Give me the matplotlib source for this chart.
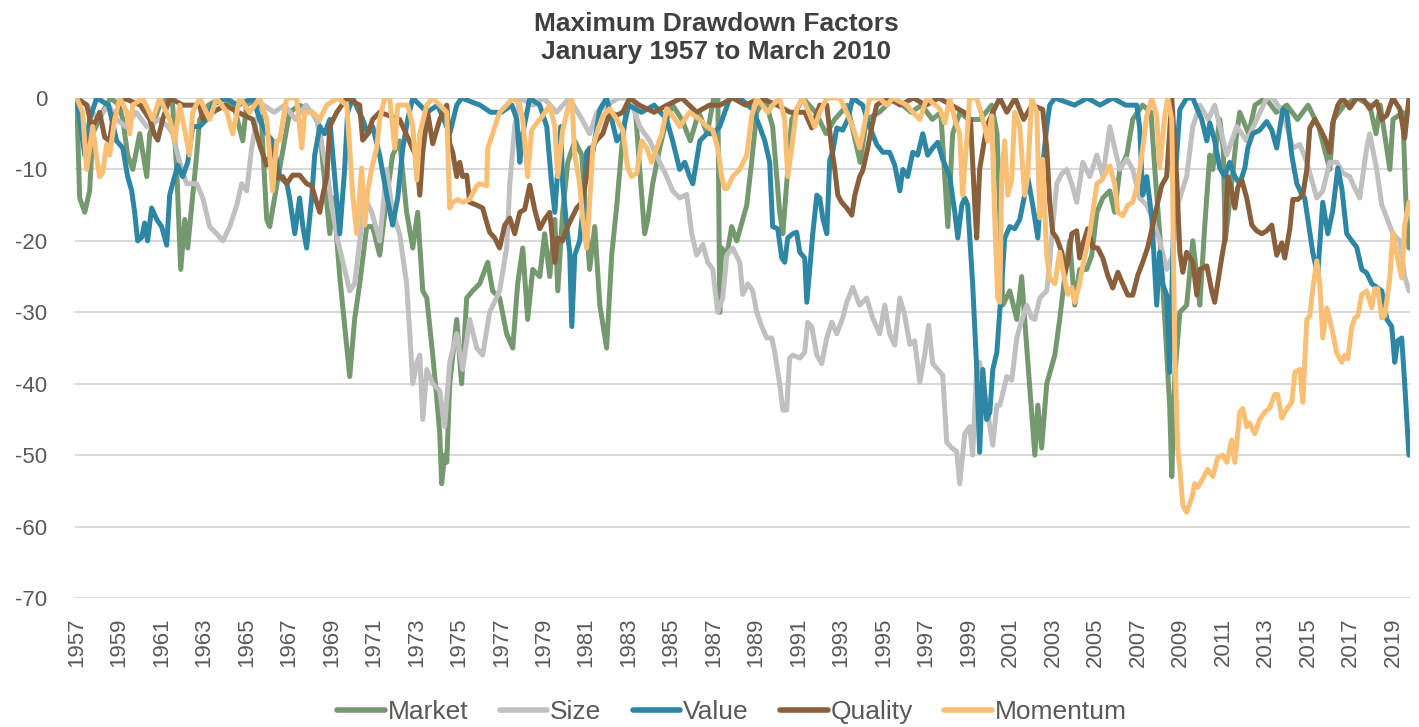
import matplotlib
matplotlib.use("Agg")
import matplotlib.pyplot as plt

plt.rcParams['font.family'] = ['Liberation Sans', 'DejaVu Sans']
plt.rcParams['axes.unicode_minus'] = False

# drawdown values (%), time in fractional years
market_t = [1957.00, 1957.14, 1957.38, 1957.61, 1957.75, 1958.22, 1958.6, 1959.0, 1959.17, 1959.40,
            1959.64, 1959.97, 1960.30, 1960.44, 1960.91, 1961.3, 1961.52, 1961.71, 1961.90, 1962.09,
            1962.23, 1962.42, 1962.65, 1962.79, 1963.2, 1963.8, 1964.4, 1964.82, 1965.0, 1965.5,
            1965.7, 1965.95, 1966.09, 1966.55, 1967.03, 1967.5, 1968.1, 1968.45, 1968.59, 1968.92,
            1969.1, 1969.39, 1969.86, 1970.09, 1970.33, 1970.66, 1970.94, 1971.27, 1971.60, 1971.88,
            1972.21, 1972.54, 1972.83, 1973.06, 1973.30, 1973.49, 1973.77, 1973.96, 1974.10, 1974.19,
            1974.33, 1974.43, 1974.57, 1974.90, 1975.13, 1975.37, 1975.65, 1975.98, 1976.36, 1976.59,
            1976.92, 1977.25, 1977.54, 1977.77, 1978.01, 1978.24, 1978.48, 1978.81, 1979.04, 1979.28,
            1979.52, 1979.66, 1979.89, 1980.13, 1980.46, 1980.79, 1981.16, 1981.40, 1981.64, 1981.96,
            1982.20, 1982.44, 1982.67, 1982.91, 1983.3, 1983.52, 1983.75, 1983.90, 1984.13, 1984.46,
            1984.79, 1985.07, 1985.5, 1985.9, 1986.3, 1986.7, 1987.0, 1987.2, 1987.29, 1987.38,
            1987.62, 1987.85, 1988.09, 1988.37, 1988.56, 1988.79, 1989.03, 1989.4, 1989.78, 1990.11,
            1990.26, 1990.44, 1990.68, 1991.2, 1991.8, 1992.3, 1992.7, 1993.3, 1993.9, 1994.2,
            1994.8, 1995.5, 1996.3, 1996.8, 1997.3, 1997.7, 1998.03, 1998.26, 1998.6, 1999.0,
            1999.55, 2000.1, 2000.35, 2000.62, 2000.95, 2001.28, 2001.51, 2001.75, 2001.98, 2002.13,
            2002.27, 2002.45, 2002.69, 2003.07, 2003.30, 2003.54, 2003.77, 2004.01, 2004.24, 2004.57,
            2004.81, 2005.05, 2005.33, 2005.66, 2005.89, 2006.13, 2006.46, 2006.74, 2007.2, 2007.6,
            2007.78, 2008.01, 2008.25, 2008.48, 2008.58, 2008.72, 2008.96, 2009.28, 2009.57, 2009.76,
            2009.90, 2010.13, 2010.37, 2010.51, 2010.84, 2011.0, 2011.1, 2011.4, 2011.64, 2011.78,
            2012.2, 2012.5, 2013.0, 2013.5, 2014.0, 2014.5, 2015.0, 2015.5, 2016.02, 2016.2,
            2016.7, 2017.3, 2017.9, 2018.2, 2018.4, 2018.85, 2019.0, 2019.46, 2019.6, 2019.75]
market_v = [0, -14, -16, -13, -5, -2, 0, -1, -3, -8,
            -10, -5, -11, -5, -1, 0, -1, -10, -24, -17,
            -21, -15, -8, -3, -1, 0, -1, -6, -1, 0,
            -3, -17, -18, -10, -2, -1, -2, -4, -9, -19,
            -14, -25, -39, -31, -26, -18, -18, -22, -14, -8,
            -6, -16, -21, -16, -27, -28, -36, -42, -47, -54,
            -50, -51, -40, -31, -40, -28, -27, -26, -23, -27,
            -28, -33, -35, -26, -21, -31, -24, -25, -19, -25,
            -17, -27, -16, -9, -6, -8, -24, -18, -29, -35,
            -22, -15, -7, -1, -1, -10, -19, -17, -12, -7,
            -3, -1, -3, -6, -2, -5, 0, 0, -30, -21,
            -22, -18, -20, -17, -15, -9, -2, 0, -4, -16,
            -19, -12, -3, 0, -2, -5, -3, -1, -9, -3,
            -2, 0, -2, -1, -3, -2, -18, -5, -2, -3,
            -3, -1, -5, -29, -27, -31, -25, -35, -44, -50,
            -43, -49, -40, -36, -31, -25, -20, -29, -24, -24,
            -22, -16, -14, -13, -16, -10, -8, -3, -1, -2,
            -10, -19, -31, -43, -53, -39, -30, -29, -20, -25,
            -29, -18, -8, -10, -3, -7, -20, -12, -5, -2,
            -5, -1, 0, -2, -1, -3, -1, -4, -10, -3,
            -1, 0, -1, -5, -1, -10, -3, -2, -14, -21]

size_t = [1957.00, 1957.5, 1958.0, 1958.5, 1958.88, 1959.3, 1959.8, 1960.3, 1960.9, 1961.3,
          1961.52, 1961.85, 1962.18, 1962.65, 1962.94, 1963.26, 1963.59, 1963.88, 1964.21, 1964.54,
          1964.77, 1965.01, 1965.24, 1965.48, 1965.8, 1966.3, 1966.8, 1967.3, 1967.8, 1968.3,
          1968.78, 1969.01, 1969.30, 1969.86, 1970.09, 1970.33, 1970.57, 1970.9, 1971.27, 1971.60,
          1971.88, 1972.21, 1972.54, 1972.69, 1972.83, 1973.02, 1973.16, 1973.30, 1973.49, 1973.77,
          1974.10, 1974.33, 1974.57, 1974.90, 1975.18, 1975.51, 1975.84, 1976.12, 1976.45, 1976.92,
          1977.25, 1977.40, 1977.63, 1977.87, 1978.5, 1979.0, 1979.6, 1980.2, 1980.8, 1981.16,
          1981.5, 1982.0, 1982.5, 1983.05, 1983.52, 1983.99, 1984.46, 1984.79, 1985.07, 1985.40,
          1985.73, 1985.97, 1986.20, 1986.49, 1986.72, 1986.96, 1987.19, 1987.43, 1987.62, 1987.90,
          1988.23, 1988.37, 1988.61, 1988.84, 1989.03, 1989.27, 1989.50, 1989.74, 1989.88, 1990.11,
          1990.26, 1990.44, 1990.58, 1990.73, 1991.06, 1991.29, 1991.43, 1991.62, 1991.86, 1992.09,
          1992.33, 1992.56, 1992.80, 1993.08, 1993.27, 1993.55, 1993.88, 1994.21, 1994.49, 1994.82,
          1995.06, 1995.29, 1995.53, 1995.77, 1996.00, 1996.24, 1996.47, 1996.71, 1996.94, 1997.13,
          1997.32, 1997.56, 1997.79, 1997.98, 1998.22, 1998.45, 1998.59, 1998.83, 1999.06, 1999.20,
          1999.39, 1999.53, 2000.15, 2000.34, 2000.48, 2000.81, 2001.04, 2001.28, 2001.42, 2001.75,
          2001.98, 2002.13, 2002.36, 2002.69, 2002.83, 2002.97, 2003.16, 2003.40, 2003.63, 2003.87,
          2004.10, 2004.39, 2004.72, 2005.05, 2005.33, 2005.66, 2005.89, 2006.13, 2006.46, 2006.74,
          2007.07, 2007.40, 2007.68, 2008.01, 2008.34, 2008.63, 2008.85, 2009.28, 2009.57, 2009.9,
          2010.3, 2010.6, 2011.17, 2011.64, 2012.1, 2012.58, 2013.05, 2013.34, 2013.81, 2014.28,
          2014.61, 2014.94, 2015.41, 2015.69, 2016.02, 2016.35, 2016.63, 2016.96, 2017.10, 2017.43,
          2017.76, 2017.90, 2018.23, 2018.47, 2018.71, 2018.99, 2019.32, 2019.55, 2019.75]
size_v = [0, -1, -3, -1, -3, -4, -2, -4, -3, -4,
          -5, -9, -12, -12, -14, -18, -19, -20, -18, -15,
          -12, -13, -7, -3, -1, -2, -1, -3, -1, -3,
          -10, -15, -20, -27, -26, -20, -14, -16, -20, -10,
          -16, -19, -26, -33, -40, -37, -36, -45, -38, -40,
          -41, -46, -37, -33, -38, -31, -35, -36, -30, -27,
          -21, -12, -4, 0, -1, 0, -2, 0, -3, -5,
          -2, -1, 0, 0, -4, -6, -9, -11, -13, -14,
          -13.5, -19, -22, -20.5, -23, -24, -30, -28, -22, -21,
          -23, -27.5, -26, -27, -30, -32, -33.6, -33.6, -35.6, -40,
          -43.7, -43.7, -36.4, -36, -36.4, -35.6, -31.4, -32, -36, -37.2,
          -33.6, -31.4, -33, -30.8, -28.6, -26.5, -29, -28, -30.8, -33,
          -29, -33, -34.6, -28, -30.4, -34.5, -34, -39.8, -36, -31.8,
          -37.2, -38, -38.8, -48.2, -49, -49.5, -54, -47, -46, -50,
          -38, -37, -48.6, -43, -43, -39, -39.5, -33.6, -32, -29,
          -30.8, -31, -28, -27, -23, -18, -12, -10.6, -10, -12,
          -14.6, -9, -11, -8, -11, -4, -7, -10, -8.5, -10,
          -14, -15, -17, -20, -24, -22, -15, -11, -4, -1,
          -3, -1, -8, -4, -6, -3, 0, 0, -2, -7,
          -6.5, -9, -14, -13, -9, -9, -10.5, -11, -12, -14,
          -7, -5, -10, -15, -16.8, -19, -20, -25, -27]

value_t = [1957.00, 1957.14, 1957.38, 1957.61, 1957.94, 1958.5, 1958.88, 1959.17, 1959.40, 1959.59,
           1959.73, 1959.87, 1960.06, 1960.20, 1960.34, 1960.53, 1960.77, 1961.00, 1961.24, 1961.38,
           1961.52, 1961.76, 1961.99, 1962.23, 1962.46, 1962.79, 1963.12, 1963.41, 1964.0, 1964.6,
           1965.3, 1965.62, 1965.95, 1966.23, 1966.56, 1966.9, 1967.03, 1967.27, 1967.50, 1967.65,
           1967.83, 1968.07, 1968.21, 1968.45, 1968.68, 1968.92, 1969.15, 1969.39, 1969.62, 1969.76,
           1970.00, 1970.47, 1970.71, 1970.94, 1971.27, 1971.60, 1971.88, 1972.12, 1972.36, 1972.59,
           1972.83, 1973.5, 1974.0, 1974.57, 1974.9, 1975.13, 1976.0, 1976.5, 1977.0, 1977.5,
           1977.73, 1977.87, 1978.01, 1978.34, 1978.81, 1979.14, 1979.37, 1979.52, 1979.66, 1979.80,
           1979.89, 1980.08, 1980.22, 1980.32, 1980.46, 1980.69, 1980.83, 1981.02, 1981.16, 1981.31,
           1981.64, 1981.96, 1982.44, 1982.7, 1983.0, 1983.6, 1984.2, 1984.79, 1985.07, 1985.40,
           1985.64, 1985.87, 1986.02, 1986.35, 1986.68, 1986.96, 1987.29, 1987.76, 1988.23, 1988.84,
           1989.17, 1989.41, 1989.64, 1989.78, 1990.02, 1990.21, 1990.35, 1990.49, 1990.73, 1990.91,
           1991.06, 1991.29, 1991.39, 1991.53, 1991.67, 1991.86, 1992.00, 1992.14, 1992.33, 1992.47,
           1992.61, 1992.80, 1993.08, 1993.32, 1993.55, 1994.02, 1994.35, 1994.68, 1994.97, 1995.29,
           1995.53, 1995.77, 1995.91, 1996.14, 1996.38, 1996.61, 1996.85, 1997.08, 1997.32, 1997.56,
           1997.79, 1998.12, 1998.36, 1998.50, 1998.69, 1998.83, 1998.97, 1999.20, 1999.39, 1999.53,
           1999.68, 1999.86, 2000.01, 2000.15, 2000.34, 2000.57, 2000.71, 2000.95, 2001.18, 2001.42,
           2001.65, 2001.79, 2002.03, 2002.27, 2002.45, 2002.69, 2002.83, 2003.07, 2004.0, 2004.6,
           2005.2, 2005.8, 2006.4, 2006.93, 2007.07, 2007.21, 2007.40, 2007.64, 2007.87, 2008.01,
           2008.15, 2008.34, 2008.48, 2008.72, 2008.96, 2009.28, 2009.57, 2009.76, 2009.99, 2010.23,
           2010.37, 2010.60, 2010.84, 2011.07, 2011.31, 2011.55, 2011.78, 2012.02, 2012.16, 2012.39,
           2012.72, 2013.05, 2013.29, 2013.52, 2013.81, 2014.00, 2014.23, 2014.47, 2014.70, 2014.84,
           2014.98, 2015.22, 2015.45, 2015.69, 2015.93, 2016.16, 2016.40, 2016.59, 2016.82, 2017.06,
           2017.29, 2017.53, 2017.76, 2018.00, 2018.23, 2018.47, 2018.71, 2018.94, 2019.08, 2019.22,
           2019.41, 2019.55, 2019.75]
value_v = [0, -3, -8, -3, 0, -1, -6, -7, -11, -13,
           -16, -20, -19.5, -17.5, -20, -15.4, -17, -18, -20.6, -13.6,
           -12, -9.4, -11, -9, -4, -4, -3, -1, 0, -1,
           0, -3, -5, -6, -11, -12, -14, -19, -14, -18,
           -21, -14, -8, -4, -5, -3, -11, -19, -10, -2,
           0, -3, -5, -4, -8, -13.6, -17.8, -14, -7, -3,
           0, -2, -1, -5, -1, 0, -1, -2, -2, -1,
           -3, -9, -5, 0, -1, -4, -12, -16, -10, -4,
           -12, -18, -21.6, -32, -22, -20, -16, -7.6, -7, -7.6,
           -1.6, 0, -6, -5, -1, -2, -1, -3, -6, -10,
           -9, -11, -12, -6, -5, -5, -4, 0, 0, -1.6,
           -4, -6, -9, -18, -18.3, -22.4, -23, -19.6, -19, -18.8,
           -21.6, -22.4, -28.6, -23.8, -19, -13.6, -14, -16.8, -19, -8.7,
           -7.5, -4.2, -4.5, -3, 0, -1, -4, -6.5, -7.6, -7.6,
           -9.4, -13, -10, -11, -7.6, -8, -5, -8, -7, -6.2,
           -8.6, -11, -16, -19.6, -15, -14, -15, -26, -37.8, -49.6,
           -38, -45, -44, -38, -35.6, -26, -19.6, -18, -18.3, -17,
           -13.6, -11, -15, -19.6, -11, -4, -1, 0, -1, 0,
           -1, 0, -1, -1, -4.2, -13.6, -11, -16.8, -29, -21.6,
           -26, -27.6, -38.4, -12, -1.6, 0, 0, -1.4, -3, -6,
           -3.5, -6, -9.8, -11, -9, -11, -12, -9.8, -7, -5,
           -4.5, -3.3, -4.5, -7, -1.6, -2, -8, -12, -13.5, -14,
           -16.8, -21.6, -24.8, -14.6, -19, -15.8, -9.8, -12.7, -19, -20,
           -20.9, -24, -24.5, -26, -26.5, -27, -31, -32, -37, -34,
           -33.6, -40, -50]

quality_t = [1957.00, 1957.47, 1957.71, 1957.94, 1958.08, 1958.32, 1958.55, 1958.70, 1959.2, 1960.0,
             1960.44, 1960.67, 1960.82, 1961.05, 1961.38, 1962.0, 1962.79, 1962.94, 1963.41, 1964.0,
             1964.6, 1965.29, 1965.62, 1965.95, 1966.23, 1966.47, 1966.70, 1966.89, 1967.17, 1967.50,
             1967.83, 1968.07, 1968.30, 1968.45, 1968.59, 1968.78, 1968.92, 1969.25, 1969.72, 1970.33,
             1970.47, 1970.71, 1970.94, 1971.27, 1972.21, 1973.02, 1973.16, 1973.30, 1973.53, 1973.77,
             1974.10, 1974.43, 1974.57, 1974.71, 1974.90, 1975.04, 1975.18, 1975.37, 1975.51, 1975.84,
             1976.12, 1976.31, 1976.45, 1976.69, 1976.92, 1977.16, 1977.40, 1977.63, 1977.87, 1978.10,
             1978.34, 1978.57, 1978.81, 1979.04, 1979.28, 1979.52, 1979.66, 1979.89, 1980.08, 1980.32,
             1980.55, 1980.79, 1981.02, 1981.26, 1981.49, 1981.78, 1982.11, 1982.44, 1982.72, 1983.05,
             1983.5, 1984.2, 1984.8, 1985.5, 1986.2, 1986.8, 1987.3, 1987.9, 1988.5, 1989.2,
             1990.0, 1990.6, 1991.3, 1991.62, 1992.0, 1992.33, 1992.56, 1992.70, 1992.85, 1993.03,
             1993.27, 1993.51, 1993.65, 1993.88, 1994.02, 1994.26, 1994.45, 1994.68, 1995.2, 1995.8,
             1996.4, 1997.0, 1997.6, 1998.2, 1998.8, 1999.1, 1999.30, 1999.39, 1999.53, 1999.86,
             2000.15, 2000.48, 2000.81, 2001.2, 2001.6, 2002.0, 2002.5, 2002.69, 2002.83, 2002.97,
             2003.16, 2003.40, 2003.54, 2003.68, 2003.87, 2004.10, 2004.24, 2004.39, 2004.62, 2004.86,
             2005.09, 2005.33, 2005.56, 2005.80, 2006.04, 2006.27, 2006.51, 2006.74, 2006.98, 2007.21,
             2007.45, 2007.68, 2007.92, 2008.11, 2008.34, 2008.58, 2008.81, 2008.96, 2009.10, 2009.28,
             2009.57, 2009.76, 2009.90, 2010.23, 2010.46, 2010.60, 2010.74, 2010.93, 2011.07, 2011.22,
             2011.40, 2011.55, 2011.69, 2011.88, 2012.11, 2012.35, 2012.58, 2012.82, 2013.05, 2013.29,
             2013.52, 2013.76, 2013.90, 2014.14, 2014.28, 2014.52, 2014.75, 2014.94, 2015.08, 2015.31,
             2015.55, 2015.78, 2016.02, 2016.16, 2016.40, 2016.63, 2016.96, 2017.29, 2017.57, 2017.90,
             2018.23, 2018.47, 2018.71, 2018.99, 2019.32, 2019.55, 2019.75]
quality_v = [0, -1, -4, -3, -2, -5.5, -6, -3, 0, -1,
             -3, -5.2, -5.9, -3, 0, -1, -1, -3, -2, -1,
             -2, -3, -6.6, -9.4, -7, -11.2, -11, -12, -10.8, -10.8,
             -12, -12.3, -14.6, -16, -13.6, -11, -4, -2, 0, -1,
             -5.9, -5, -3, -2, -3, -8.4, -13.6, -7.6, -2, -6.4,
             -3, -1, -6.4, -7.6, -11, -9, -11, -10.8, -14.6, -15,
             -15.4, -17.4, -18.8, -19.6, -21, -17.8, -16.8, -19, -16, -15.6,
             -12.2, -15.6, -18.3, -17, -16, -23, -19.6, -20, -18.3, -16.8,
             -15.4, -14.6, -11, -7, -5.9, -5, -2, -2.4, -2, 0,
             -1, -2, -1, 0, -2, -1, -1, 0, -1, 0,
             -1, -2, -2, -4.2, -1, -1, -7, -9.8, -13.6, -14.6,
             -15.4, -16.4, -13.6, -11, -10.2, -7, -4, -1, 0, -1,
             0, -1, 0, -1, -2, -3, -15, -19.6, -10, -4,
             -2, 0, -2, 0, -3, -1, -1.6, -7, -14.6, -18.8,
             -19.6, -21.6, -24.4, -23, -19, -18.6, -22.4, -20.5, -18.3, -20.9,
             -21, -22.4, -24.8, -26.6, -24.4, -26, -27.6, -27.6, -24.8, -23,
             -20.9, -17.8, -14.6, -12.2, -11, 0, -11.2, -21.6, -24.4, -21.6,
             -23, -27.6, -24, -23.5, -27, -28.6, -26, -22.4, -20, -11,
             -13, -15.4, -12.5, -11.5, -14, -17.8, -18.6, -19, -18.6, -17.8,
             -22, -20.3, -22.4, -18.3, -14.2, -14.2, -13.6, -10, -4.2, -3,
             -4.2, -5.6, -7.6, -3.5, -1, 0, -1.4, 0, 0, -1.5,
             -0.5, -3, -2.4, 0, -1.5, -5.6, 0]

momentum_t = [1957.00, 1957.28, 1957.47, 1957.75, 1957.94, 1958.08, 1958.22, 1958.41, 1958.55, 1958.79,
              1959.03, 1959.36, 1959.50, 1959.64, 1960.11, 1960.58, 1960.91, 1961.38, 1961.62, 1961.85,
              1962.32, 1962.46, 1962.79, 1963.26, 1963.59, 1964.07, 1964.35, 1964.68, 1965.15, 1965.62,
              1965.95, 1966.23, 1966.42, 1966.56, 1966.89, 1967.36, 1967.60, 1967.74, 1968.12, 1968.45,
              1968.78, 1969.29, 1969.72, 1969.86, 1970.00, 1970.19, 1970.42, 1970.57, 1970.71, 1970.90,
              1971.13, 1971.27, 1971.51, 1971.74, 1971.98, 1972.12, 1972.59, 1972.83, 1973.02, 1973.16,
              1973.49, 1973.77, 1974.10, 1974.43, 1974.57, 1974.71, 1974.95, 1975.18, 1975.51, 1975.84,
              1975.98, 1976.31, 1976.36, 1976.59, 1976.92, 1977.25, 1977.54, 1977.87, 1978.01, 1978.24,
              1978.43, 1978.67, 1978.95, 1979.28, 1979.52, 1979.66, 1979.89, 1980.13, 1980.32, 1980.46,
              1980.69, 1980.83, 1981.02, 1981.16, 1981.31, 1981.54, 1981.78, 1982.11, 1982.44, 1982.72,
              1982.95, 1983.14, 1983.38, 1983.61, 1983.85, 1984.08, 1984.32, 1984.56, 1984.79, 1985.07,
              1985.40, 1985.87, 1986.35, 1986.68, 1986.96, 1987.19, 1987.38, 1987.52, 1987.62, 1987.90,
              1988.23, 1988.56, 1988.79, 1989.03, 1989.55, 1989.78, 1990.11, 1990.35, 1990.49, 1990.68,
              1990.91, 1991.20, 1991.76, 1992.00, 1992.33, 1992.94, 1993.27, 1993.55, 1993.88, 1994.02,
              1994.35, 1994.82, 1995.15, 1995.44, 1996.10, 1996.38, 1996.71, 1997.04, 1997.65, 1997.89,
              1998.12, 1998.36, 1998.59, 1998.73, 1998.92, 1999.06, 1999.39, 1999.68, 1999.91, 2000.10,
              2000.24, 2000.38, 2000.48, 2000.57, 2000.71, 2000.85, 2001.04, 2001.18, 2001.42, 2001.65,
              2001.79, 2001.98, 2002.22, 2002.36, 2002.50, 2002.69, 2002.83, 2003.07, 2003.30, 2003.44,
              2003.68, 2003.87, 2004.01, 2004.24, 2004.39, 2004.57, 2004.72, 2004.86, 2005.05, 2005.28,
              2005.52, 2005.66, 2005.89, 2006.04, 2006.27, 2006.51, 2006.74, 2006.98, 2007.21, 2007.40,
              2007.64, 2007.87, 2008.01, 2008.25, 2008.39, 2008.58, 2008.72, 2008.86, 2008.96, 2009.10,
              2009.28, 2009.52, 2009.66, 2009.80, 2010.04, 2010.27, 2010.51, 2010.74, 2010.98, 2011.17,
              2011.40, 2011.55, 2011.78, 2011.92, 2012.11, 2012.25, 2012.49, 2012.72, 2012.96, 2013.19,
              2013.43, 2013.57, 2013.76, 2014.00, 2014.23, 2014.38, 2014.61, 2014.75, 2014.94, 2015.08,
              2015.22, 2015.41, 2015.55, 2015.69, 2015.88, 2016.02, 2016.16, 2016.35, 2016.59, 2016.73,
              2016.87, 2017.06, 2017.20, 2017.34, 2017.53, 2017.76, 2018.00, 2018.14, 2018.28, 2018.47,
              2018.61, 2018.85, 2018.99, 2019.18, 2019.41, 2019.55, 2019.75]
momentum_v = [0, -2, -10, -4, -8.4, -11, -10.5, -6.5, -8, -3,
              0, -2, -5, -1, 0, -3, 0, -3, -6, -1,
              -8, -2, 0, -3, 0, -2, -5, 0, -2, 0,
              -3, -13, -6, -5.9, 0, 0, -7, -2, -2, -3,
              -1, 0, -1, -7, -13.6, -19, -9.8, -17.8, -13, -9.8,
              -7, -3, 0, 0, -7, -1, -1, -4, -11.5, -5,
              -1, 0, -1, -2, -15.4, -14.6, -14.2, -14.6, -14.2, -12.3,
              -12, -12.3, -7, -5, -2, -1, 0, -1, -3, -11,
              -4.5, -3.5, -2.5, -1, -4, -11, -4.5, -1.5, 0, -8,
              -12, -16.8, -21, -14.6, -7, -4.5, -2.5, -1.5, -3, -4.5,
              -9.8, -11, -10.5, -6, -7, -9, -7, -5, -1.5, -2.5,
              -4, -2, -3, -4, -4.5, -7, -11, -12.7, -12.7, -11,
              -10, -8, -2.6, 0, -2, -1, 0, -3, -11, -7,
              -1.5, 0, -4, -2, 0, 0, -2, -4, -7, -5,
              0, 0, -1, 0, -1, -2, -3, 0, -1.5, -3.5,
              0, -3, -5, -13.6, -6, 0, 0, -3, -6, -2.5,
              -16.8, -28, -28.6, -11, -6, -13.6, -11.5, -2, -4, -13.6,
              -11, 0, -2, -16.8, -8.6, -22, -25.2, -26, -21.6, -24,
              -27.5, -26.5, -28.6, -26, -23.4, -21, -18.8, -16, -12, -11.5,
              -10.2, -9.5, -12, -16, -16.5, -15, -14.6, -12, -7, -2.5,
              0, -2.5, -9.8, -2.5, 0, -3, -35.6, -49, -52, -57,
              -58, -56, -54, -54.5, -53.3, -52, -53, -50.4, -50, -51,
              -47.9, -51, -44, -43.5, -46, -45.5, -47, -45, -44, -43.4,
              -41.5, -41.5, -44.8, -43.5, -42.6, -38.4, -38, -42.6, -31, -30.5,
              -26.7, -22.8, -26, -33.6, -29.4, -31, -32.9, -35.7, -37, -36,
              -36.5, -32, -30.8, -30.5, -27.5, -27, -29.4, -26.7, -26.7, -30.8,
              -30.5, -25.2, -18.8, -22, -25.2, -17.8, -14.6]

series = [
    ("Market", market_t, market_v, "#74996f"),
    ("Size", size_t, size_v, "#c0c0c0"),
    ("Value", value_t, value_v, "#2e86a5"),
    ("Quality", quality_t, quality_v, "#8a5f3c"),
    ("Momentum", momentum_t, momentum_v, "#f8bf75"),
]

year_ticks = list(range(1957, 2020, 2))
value_ticks = [0, -10, -20, -30, -40, -50, -60, -70]

fig = plt.figure(figsize=(14.19, 7.27), dpi=100)
ax = fig.add_axes([75 / 1419, 1 - 598 / 727, (1410 - 75) / 1419, 500 / 727])

for name, t, v, c in series:
    ax.plot(t, v, color=c, lw=3.6, label=name, solid_joinstyle='round', solid_capstyle='round')

ax.set_xlim(1956.92, 2019.8)
ax.set_ylim(-70, 0)
ax.set_yticks(value_ticks)
ax.set_yticklabels([str(v) for v in value_ticks])
ax.set_xticks(year_ticks)
ax.set_xticklabels([str(y) for y in year_ticks], rotation=90)
ax.tick_params(axis='y', length=0, pad=20, labelsize=16, labelcolor='#595959')
ax.tick_params(axis='x', length=0, pad=14, labelsize=16, labelcolor='#595959')
ax.yaxis.grid(True, color='#d9d9d9', lw=1.5)
ax.set_axisbelow(True)
for s in ax.spines.values():
    s.set_visible(False)

fig.text(716 / 1419, 1 - 38 / 727, "Maximum Drawdown Factors\nJanuary 1957 to March 2010",
         ha='center', va='center', fontsize=19, fontweight='bold', color='#404040', linespacing=1.25)

leg = fig.legend(loc='center', bbox_to_anchor=(732 / 1419, 1 - 712 / 727), ncol=5, frameon=False,
                 fontsize=19, handlelength=1.8, handletextpad=0.1, columnspacing=1.2)
for txt in leg.get_texts():
    txt.set_color('#595959')
for h in leg.legend_handles:
    h.set_linewidth(4)

fig.savefig("out.png", dpi=100)
